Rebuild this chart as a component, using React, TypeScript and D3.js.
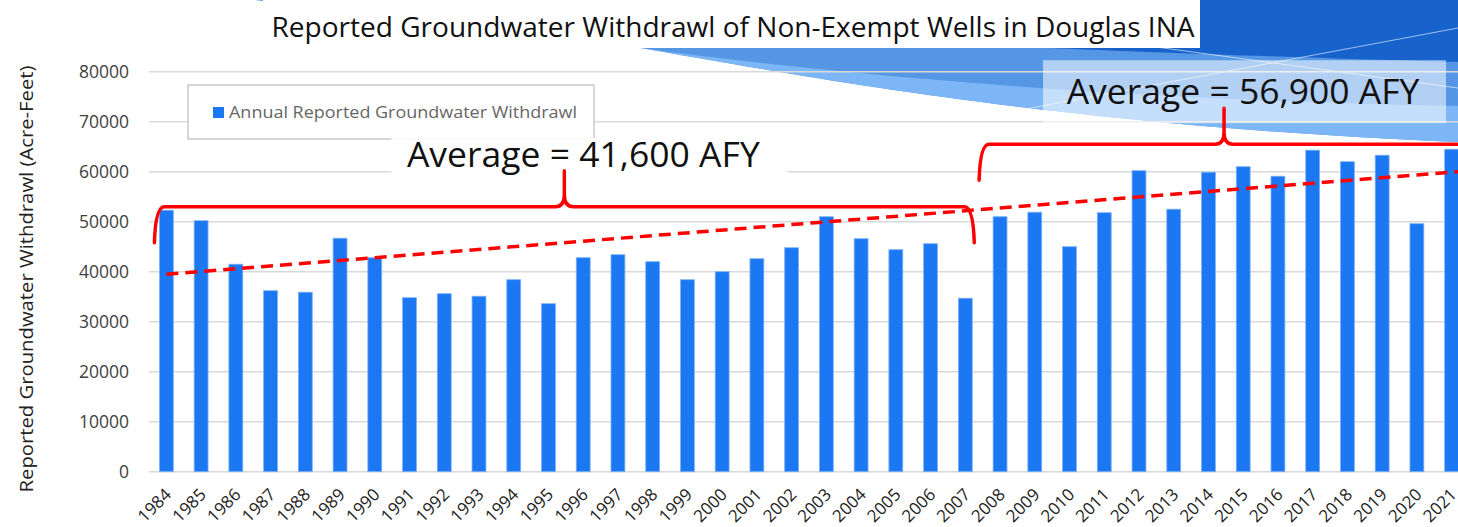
import * as d3 from 'd3';

const years = d3.range(1984, 2022).map(String);
const withdrawals = [
  52300, 50200, 41500, 36200, 35900, 46700, 42800, 34800, 35600, 35100,
  38400, 33600, 42800, 43400, 42000, 38400, 40000, 42600, 44800, 51000,
  46600, 44400, 45600, 34700, 51000, 51900, 45000, 51800, 60200, 52500,
  59900, 61000, 59100, 64300, 62000, 63300, 49600, 64500,
];
const yTicks = [0, 10000, 20000, 30000, 40000, 50000, 60000, 70000, 80000];
// trend line values read at first and last year
const trendYears = ['1984', '2021'];
const trendValues = [39500, 59900];
// brace annotations: period start/end year, level of the brace line, label
const periods = [
  { from: '1984', to: '2007', level: 53000, label: 'Average = 41,600 AFY' },
  { from: '2008', to: '2021', level: 65500, label: 'Average = 56,900 AFY' },
];

const W = 1458;
const H = 527;
const FONT = '"Open Sans", sans-serif';

const x = d3.scaleBand().domain(years).range([149, 1469]).paddingInner(0.6).paddingOuter(0.3);
const y = d3.scaleLinear().domain([0, 80000]).range([471.7, 71.7]);

function bracePath(x0: number, x1: number, yl: number, arm: number) {
  const tx = (x0 + x1) / 2;
  return [
    `M${x0},${yl + arm}`,
    `Q${x0 + 1},${yl} ${x0 + 10},${yl}`,
    `L${tx - 9},${yl}`,
    `Q${tx},${yl} ${tx},${yl - 12}`,
    `L${tx},${yl - arm}`,
    `M${tx},${yl - 12}`,
    `Q${tx},${yl} ${tx + 9},${yl}`,
    `L${x1 - 10},${yl}`,
    `Q${x1 - 1},${yl} ${x1},${yl + arm}`,
  ].join(' ');
}

export default function App() {
  const bw = x.bandwidth();
  const cx = (d: string) => (x(d) ?? 0) + bw / 2;
  const [xr0, xr1] = x.range();

  const braces = periods.map((p, i) => {
    const x0 = i === 0 ? (x(p.from) ?? 0) - 5 : (x(p.from) ?? 0) - 14;
    const x1 = i === 0 ? (x(p.to) ?? 0) + bw + 2 : xr1;
    return { ...p, x0, x1, tip: (x0 + x1) / 2, yl: y(p.level) };
  });

  const slope = (trendValues[1] - trendValues[0]) / (cx(trendYears[1]) - cx(trendYears[0]));

  return (
    <svg
      width={W}
      height={H}
      style={{ position: 'absolute', left: 0, top: 0, background: '#fff' }}
      fontFamily={FONT}
    >
      {/* background decoration */}
      <path
        d="M255,0 L1458,0 L1458,142 C1050,125 800,75 640,48 C500,25 350,8 255,0 Z"
        fill="#5597e4"
      />
      <path
        d="M640,48 C800,75 1050,125 1458,142 L1458,106 C1100,100 800,70 640,48 Z"
        fill="#7cb6f6"
      />
      <path
        d="M255,0 L1458,0 L1458,62 C1300,58 1100,50 1000,46 C800,35 500,12 255,0 Z"
        fill="#1862cb"
      />
      <path d="M1010,112 L1458,28" stroke="#fff" strokeOpacity={0.6} strokeWidth={1} />
      <path d="M1060,34 L1458,88" stroke="#fff" strokeOpacity={0.6} strokeWidth={1} />

      {/* grid */}
      {yTicks.map((t) => (
        <g key={t}>
          <line x1={xr0} x2={W} y1={y(t)} y2={y(t)} stroke="#d9d9d9" strokeWidth={1.5} />
          <text x={129} y={y(t)} dy="0.35em" textAnchor="end" fontSize={17.5} fill="#404040">
            {t}
          </text>
        </g>
      ))}

      {/* bars */}
      {years.map((yr, i) => (
        <rect
          key={yr}
          x={x(yr)}
          y={y(withdrawals[i])}
          width={bw}
          height={y(0) - y(withdrawals[i])}
          fill="#1b77f2"
          stroke="#7fb2f5"
          strokeWidth={0.8}
        />
      ))}

      {/* x labels */}
      {years.map((yr) => (
        <text
          key={yr}
          transform={`translate(${cx(yr) + 6},${y(0) + 24}) rotate(-45)`}
          textAnchor="end"
          fontSize={17}
          fill="#222"
        >
          {yr}
        </text>
      ))}

      {/* y axis title */}
      <text
        transform="translate(33,279) rotate(-90)"
        textAnchor="middle"
        fontSize={19}
        fill="#222"
        textLength={427}
        lengthAdjust="spacingAndGlyphs"
      >
        Reported Groundwater Withdrawl (Acre-Feet)
      </text>

      {/* legend */}
      <rect x={188} y={85} width={406} height={54} fill="#fff" stroke="#c9c9c9" strokeWidth={1.5} />
      <rect x={213} y={107} width={11} height={11} fill="#1b77f2" />
      <text x={229} y={118} fontSize={17} fill="#666" textLength={348} lengthAdjust="spacingAndGlyphs">
        Annual Reported Groundwater Withdrawl
      </text>

      {/* annotation boxes */}
      <rect
        x={braces[0].tip - 173}
        y={braces[0].yl - 69}
        width={396}
        height={40}
        fill="#fff"
        fillOpacity={0.9}
      />
      <rect
        x={braces[1].tip - 181}
        y={braces[1].yl - 84}
        width={403}
        height={63}
        fill="#fff"
        fillOpacity={0.55}
      />

      {/* trend line */}
      <line
        x1={cx(trendYears[0])}
        y1={y(trendValues[0])}
        x2={xr1}
        y2={y(trendValues[1] + slope * (xr1 - cx(trendYears[1])))}
        stroke="#ff0000"
        strokeWidth={3.5}
        strokeDasharray="12 7"
      />

      {/* braces */}
      {braces.map((b) => (
        <g key={b.from}>
          <path
            d={bracePath(b.x0, b.x1, b.yl, 36)}
            fill="none"
            stroke="#ff0000"
            strokeWidth={3.5}
            strokeLinecap="round"
            strokeLinejoin="round"
          />
          <text x={b.tip + 19} y={b.yl - 40} textAnchor="middle" fontSize={35.5} fill="#111">
            {b.label}
          </text>
        </g>
      ))}

      {/* title */}
      <rect x={263} y={0} width={937} height={48} fill="#fff" />
      <text
        x={733}
        y={37}
        textAnchor="middle"
        fontSize={27}
        fill="#111"
        textLength={923}
        lengthAdjust="spacingAndGlyphs"
      >
        Reported Groundwater Withdrawl of Non-Exempt Wells in Douglas INA
      </text>
    </svg>
  );
}
